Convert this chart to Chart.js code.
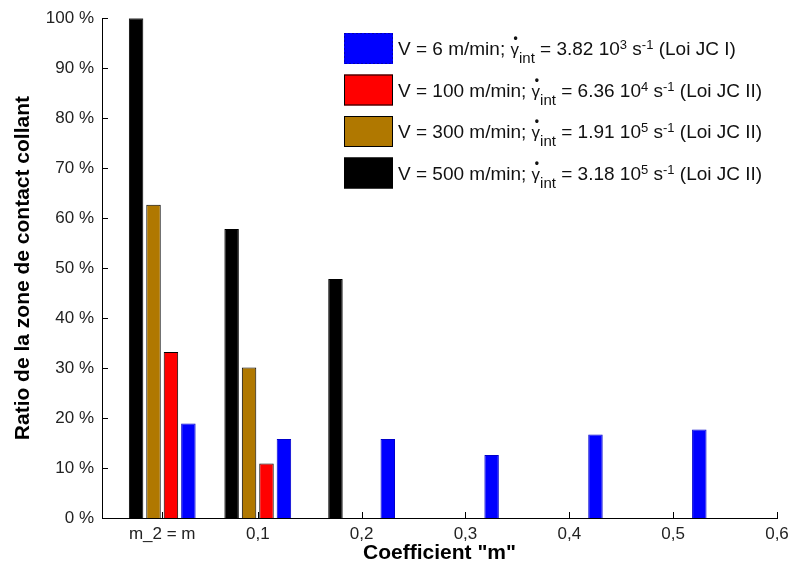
<!DOCTYPE html>
<html>
<head>
<meta charset="utf-8">
<script src="https://cdn.jsdelivr.net/npm/chart.js@4"></script>
<style>
  body { margin: 0; background: #fff; }
</style>
</head>
<body>
<canvas id="grafico" width="791" height="566"></canvas>
<script>
// valeurs
const mValeurs = [0.008, 0.1, 0.2, 0.3, 0.4, 0.5]
const xTicks = [0.008, 0.1, 0.2, 0.3, 0.4, 0.5, 0.6]
const xTickLabels = ['m_2 = m', '0,1', '0,2', '0,3', '0,4', '0,5', '0,6']

const ratio500 = [100, 57.8, 47.8, null, null, null]
const ratio300 = [62.7, 30.1, null, null, null, null]
const ratio100 = [33.2, 10.9, null, null, null, null]
const ratio6 = [18.9, 15.8, 15.8, 12.6, 16.7, 17.7]

// legende
const vitesses = [500, 300, 100, 6]
const gammaMant = ['3.18', '1.91', '6.36', '3.82']
const gammaExp = ['5', '5', '4', '3']
const lois = ['II', 'II', 'II', 'I']
const couleurs = ['#000000', '#b07800', '#ff0000', '#0000ff']

const police = '"Liberation Sans", Arial, sans-serif'
Chart.defaults.font.family = police

function points(valeurs) {
    return mValeurs.map((m, i) => ({ x: m, y: valeurs[i] }))
}

const series = [ratio500, ratio300, ratio100, ratio6]

const datasets = series.map((s, i) => ({
    label: 'V = ' + vitesses[i] + ' m/min',
    data: points(s),
    backgroundColor: couleurs[i],
    borderColor: i == 3 ? '#0000cc' : '#000000',
    borderWidth: 1,
    categoryPercentage: 0.73,
    barPercentage: 0.83
}))

// petits traits vers l'interieur (comme matlab)
const traitsInt = {
    id: 'traitsInt',
    beforeDatasetsDraw(chart) {
        const { ctx, chartArea } = chart
        const x = chart.scales.x
        const y = chart.scales.y
        ctx.save()
        ctx.strokeStyle = '#000'
        ctx.lineWidth = 1
        ctx.beginPath()
        y.ticks.forEach((t, i) => {
            const py = Math.round(y.getPixelForTick(i)) + 0.5
            ctx.moveTo(chartArea.left, py)
            ctx.lineTo(chartArea.left + 6, py)
        })
        x.ticks.forEach((t, i) => {
            const px = Math.round(x.getPixelForTick(i)) + 0.5
            ctx.moveTo(px, chartArea.bottom)
            ctx.lineTo(px, chartArea.bottom - 6)
        })
        ctx.stroke()
        ctx.restore()
    }
}

// legende avec indices / exposants
const legendeRiche = {
    id: 'legendeRiche',
    afterDraw(chart) {
        const ctx = chart.ctx
        const ordre = [3, 2, 1, 0]
        ordre.forEach((k, ligne) => {
            const haut = 33 + ligne * 41.5
            ctx.save()
            ctx.fillStyle = couleurs[k]
            ctx.fillRect(344, haut, 49, 31)
            ctx.lineWidth = 1
            if (k == 3) {
                ctx.strokeStyle = '#000066'
                ctx.setLineDash([1, 3])
            } else {
                ctx.strokeStyle = '#000'
            }
            ctx.strokeRect(344.5, haut + 0.5, 48, 30)
            ctx.setLineDash([])

            const base = haut + 22
            let x = 398
            const morceaux = [
                { t: 'V = ' + vitesses[k] + ' m/min; ', f: 19, dy: 0 },
                { t: 'γ', f: 17, dy: 0, point: true },
                { t: 'int', f: 15, dy: 8 },
                { t: ' = ' + gammaMant[k] + ' 10', f: 19, dy: 0 },
                { t: gammaExp[k], f: 13, dy: -6 },
                { t: ' s', f: 19, dy: 0 },
                { t: '-1', f: 13, dy: -6 },
                { t: ' (Loi JC ' + lois[k] + ')', f: 19, dy: 0 }
            ]
            ctx.fillStyle = '#111'
            ctx.textBaseline = 'alphabetic'
            ctx.textAlign = 'left'
            morceaux.forEach(m => {
                ctx.font = m.f + 'px ' + police
                const w = ctx.measureText(m.t).width
                ctx.fillText(m.t, x, base + m.dy)
                if (m.point) {
                    ctx.font = 'bold 12px ' + police
                    ctx.textAlign = 'center'
                    ctx.fillText('•', x + w / 2 + 1, base - 13)
                    ctx.textAlign = 'left'
                }
                x += w
            })
            ctx.restore()
        })
    }
}

new Chart(document.getElementById('grafico').getContext('2d'), {
    type: 'bar',
    data: { datasets: datasets },
    options: {
        responsive: false,
        animation: false,
        layout: { padding: { top: 17, right: 14, left: 0, bottom: 0 } },
        plugins: {
            legend: { display: false },
            tooltip: { enabled: false }
        },
        scales: {
            x: {
                type: 'linear',
                offset: false,
                min: -0.05,
                max: 0.6,
                afterBuildTicks: function (axis) {
                    axis.ticks = xTicks.map(v => ({ value: v }))
                },
                afterFit: function (axis) {
                    axis.height = 48
                    axis.paddingRight = 10
                    axis.paddingLeft = 0
                },
                grid: { display: false, drawTicks: false, offset: false },
                border: { display: true, color: '#000', width: 1 },
                ticks: {
                    autoSkip: false,
                    maxRotation: 0,
                    padding: 6,
                    color: '#222',
                    font: { size: 17 },
                    callback: function (value, index) {
                        return xTickLabels[index]
                    }
                },
                title: {
                    display: true,
                    text: 'Coefficient "m"',
                    color: '#000',
                    font: { size: 21, weight: 'bold' },
                    padding: { top: 0, bottom: 0 }
                }
            },
            y: {
                min: 0,
                max: 100,
                afterFit: function (axis) {
                    axis.width = 102
                },
                grid: { display: false, drawTicks: false },
                border: { display: true, color: '#000', width: 1 },
                ticks: {
                    stepSize: 10,
                    padding: 8,
                    color: '#222',
                    font: { size: 17 },
                    callback: function (value) {
                        return value + ' %'
                    }
                },
                title: {
                    display: true,
                    text: 'Ratio de la zone de contact collant',
                    color: '#000',
                    font: { size: 21, weight: 'bold' },
                    padding: { top: 11, bottom: 0 }
                }
            }
        }
    },
    plugins: [traitsInt, legendeRiche]
})
</script>
</body>
</html>
